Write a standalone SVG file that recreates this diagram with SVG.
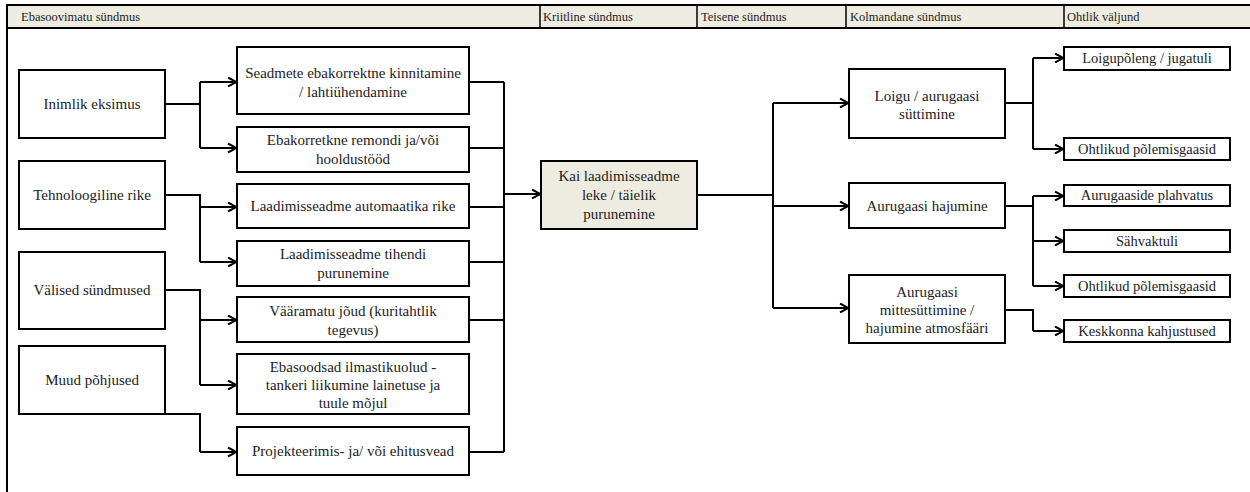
<svg xmlns="http://www.w3.org/2000/svg" width="1250" height="492" viewBox="0 0 1250 492">
<style>
.bx{fill:#fff;stroke:#000;stroke-width:2}
.bz{fill:#eeece1;stroke:#000;stroke-width:2}
.t{font-family:"Liberation Serif","Times New Roman",serif;font-size:15px;fill:#222;text-anchor:middle}
.o{font-family:"Liberation Serif","Times New Roman",serif;font-size:14.5px;fill:#222;text-anchor:middle}
.h{font-family:"Liberation Serif","Times New Roman",serif;font-size:12.5px;fill:#222}
.c{fill:none;stroke:#000;stroke-width:2}
.a{fill:none;stroke:#000;stroke-width:2;marker-end:url(#arr)}
</style>
<defs>
<marker id="arr" viewBox="0 0 10 10" refX="10" refY="5" markerWidth="10" markerHeight="10" markerUnits="userSpaceOnUse" orient="auto">
<path d="M1,0.5 L9.5,5 L1,9.5" fill="none" stroke="#000" stroke-width="2"/>
</marker>
</defs>
<rect x="0" y="0" width="1250" height="492" fill="#fff"/>
<g id="header">
<rect x="7" y="5" width="1250" height="23" fill="#eeece1" stroke="#000" stroke-width="2"/>
<line x1="7" y1="28" x2="7" y2="492" stroke="#000" stroke-width="2"/>
<g stroke="#000" stroke-width="1.5">
<line x1="540" y1="5" x2="540" y2="28"/>
<line x1="697" y1="5" x2="697" y2="28"/>
<line x1="846" y1="5" x2="846" y2="28"/>
<line x1="1064" y1="5" x2="1064" y2="28"/>
</g>
<text class="h" x="21" y="21">Ebasoovimatu sündmus</text>
<text class="h" x="543" y="21">Kriitline sündmus</text>
<text class="h" x="701" y="21">Teisene sündmus</text>
<text class="h" x="850" y="21">Kolmandane sündmus</text>
<text class="h" x="1067" y="21">Ohtlik väljund</text>
</g>
<g id="connectors">
<path class="c" d="M165,104 H200 M200,82 V148"/>
<path class="a" d="M200,82 H237"/>
<path class="a" d="M200,148 H237"/>
<path class="c" d="M165,195 H200 V262"/>
<path class="a" d="M200,207 H237"/>
<path class="a" d="M200,262 H237"/>
<path class="c" d="M165,290 H200 V385"/>
<path class="a" d="M200,320 H237"/>
<path class="a" d="M200,385 H237"/>
<path class="c" d="M165,414 H200 V452"/>
<path class="a" d="M200,452 H237"/>
<path class="c" d="M469,82 H504 M469,148 H504 M469,207 H504 M469,262 H504 M469,320 H504 M469,452 H504 M504,82 V452"/>
<path class="a" d="M504,194 H541"/>
<path class="c" d="M697,195 H773 M773,103 V308"/>
<path class="a" d="M773,103 H849"/>
<path class="a" d="M773,206 H849"/>
<path class="a" d="M773,308 H849"/>
<path class="c" d="M1005,103 H1033 M1033,58 V149"/>
<path class="a" d="M1033,58 H1064"/>
<path class="a" d="M1033,149 H1064"/>
<path class="c" d="M1005,206 H1033 M1033,196 V286"/>
<path class="a" d="M1033,196 H1064"/>
<path class="a" d="M1033,241 H1064"/>
<path class="a" d="M1033,286 H1064"/>
<path class="c" d="M1005,310 H1033 V331"/>
<path class="a" d="M1033,331 H1064"/>
</g>
<g id="n_inimlik"><rect class="bx" x="19" y="70" width="146" height="68"/><text class="t" x="92" y="109">Inimlik eksimus</text></g>
<g id="n_tehno"><rect class="bx" x="19" y="161" width="146" height="68"/><text class="t" x="92" y="200">Tehnoloogiline rike</text></g>
<g id="n_valised"><rect class="bx" x="19" y="252" width="146" height="77"/><text class="t" x="92" y="295">Välised sündmused</text></g>
<g id="n_muud"><rect class="bx" x="19" y="346" width="146" height="68"/><text class="t" x="92" y="385">Muud põhjused</text></g>
<g id="n_seadmete"><rect class="bx" x="237" y="47" width="232" height="67"/><text class="t" x="353" y="78">Seadmete ebakorrektne kinnitamine</text><text class="t" x="353" y="97">/ lahtiühendamine</text></g>
<g id="n_ebakorr"><rect class="bx" x="237" y="127" width="232" height="45"/><text class="t" x="353" y="145">Ebakorretkne remondi ja/või</text><text class="t" x="353" y="164">hooldustööd</text></g>
<g id="n_automaatika"><rect class="bx" x="237" y="184" width="232" height="44"/><text class="t" x="353" y="211">Laadimisseadme automaatika rike</text></g>
<g id="n_tihendi"><rect class="bx" x="237" y="241" width="232" height="45"/><text class="t" x="353" y="259">Laadimisseadme tihendi</text><text class="t" x="353" y="278">purunemine</text></g>
<g id="n_vaaramatu"><rect class="bx" x="237" y="297" width="232" height="45"/><text class="t" x="353" y="316">Vääramatu jõud (kuritahtlik</text><text class="t" x="353" y="335">tegevus)</text></g>
<g id="n_ebasoodsad"><rect class="bx" x="237" y="354" width="232" height="60"/><text class="t" x="353" y="372">Ebasoodsad ilmastikuolud -</text><text class="t" x="353" y="390">tankeri liikumine lainetuse ja</text><text class="t" x="353" y="408">tuule mõjul</text></g>
<g id="n_projekt"><rect class="bx" x="237" y="427" width="232" height="48"/><text class="t" x="353" y="456">Projekteerimis- ja/ või ehitusvead</text></g>
<g id="n_kriitiline"><rect class="bz" x="541" y="161" width="156" height="68"/><text class="t" x="619" y="181">Kai laadimisseadme</text><text class="t" x="619" y="200">leke / täielik</text><text class="t" x="619" y="219">purunemine</text></g>
<g id="n_loigu"><rect class="bx" x="849" y="69" width="156" height="69"/><text class="t" x="927" y="101">Loigu / aurugaasi</text><text class="t" x="927" y="119">süttimine</text></g>
<g id="n_hajumine"><rect class="bx" x="849" y="183" width="156" height="45"/><text class="t" x="927" y="211">Aurugaasi hajumine</text></g>
<g id="n_mittesuttimine"><rect class="bx" x="849" y="275" width="156" height="68"/><text class="t" x="927" y="297">Aurugaasi</text><text class="t" x="927" y="315">mittesüttimine /</text><text class="t" x="927" y="333">hajumine atmosfääri</text></g>
<g id="n_loigupoleng"><rect class="bx" x="1064" y="47" width="166" height="23"/><text class="o" x="1147" y="63">Loigupõleng / jugatuli</text></g>
<g id="n_ohtlikud1"><rect class="bx" x="1064" y="138" width="166" height="22"/><text class="o" x="1147" y="154">Ohtlikud põlemisgaasid</text></g>
<g id="n_plahvatus"><rect class="bx" x="1064" y="185" width="166" height="21"/><text class="o" x="1147" y="200">Aurugaaside plahvatus</text></g>
<g id="n_sahvaktuli"><rect class="bx" x="1064" y="230" width="166" height="22"/><text class="o" x="1147" y="246">Sähvaktuli</text></g>
<g id="n_ohtlikud2"><rect class="bx" x="1064" y="275" width="166" height="22"/><text class="o" x="1147" y="291">Ohtlikud põlemisgaasid</text></g>
<g id="n_keskkonna"><rect class="bx" x="1064" y="320" width="166" height="22"/><text class="o" x="1147" y="336">Keskkonna kahjustused</text></g>
</svg>
